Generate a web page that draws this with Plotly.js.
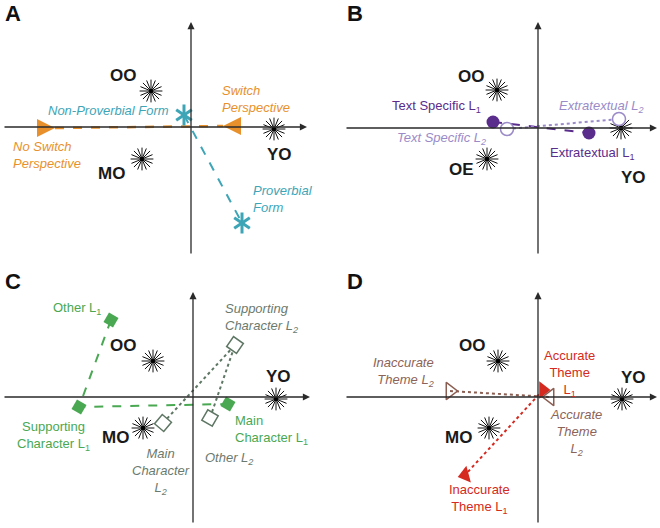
<!DOCTYPE html>
<html><head><meta charset="utf-8">
<script src="https://cdn.plot.ly/plotly-3.0.1.min.js"></script>
<style>html,body{margin:0;padding:0;background:#fff}</style>
</head><body><div id="chart" style="width:660px;height:528px"></div>
<script>
// ---------- Panel A ----------
const groupsA = ['OO', 'MO', 'YO'];
const groupsA_x = [-0.40, -0.49, 0.83];
const groupsA_y = [0.36, -0.32, -0.02];
const formA = ['Non-Proverbial Form', 'Proverbial Form'];
const formA_x = [-0.07, 0.51];
const formA_y = [0.12, -0.96];
const perspA = ['No Switch Perspective', 'Switch Perspective'];
const perspA_x = [-1.36, 0.32];
const perspA_y = [-0.01, 0.01];

// ---------- Panel B ----------
const groupsB = ['OO', 'OE', 'YO'];
const groupsB_x = [-0.41, -0.51, 0.83];
const groupsB_y = [0.38, -0.31, 0.00];
const infoB_L1 = ['Text Specific L1', 'Extratextual L1'];
const infoB_L1_x = [-0.45, 0.51];
const infoB_L1_y = [0.06, -0.05];
const infoB_L2 = ['Text Specific L2', 'Extratextual L2'];
const infoB_L2_x = [-0.31, 0.81];
const infoB_L2_y = [-0.01, 0.09];

// ---------- Panel C ----------
const groupsC = ['OO', 'MO', 'YO'];
const groupsC_x = [-0.40, -0.50, 0.83];
const groupsC_y = [0.36, -0.31, -0.02];
const charC_L1 = ['Other L1', 'Supporting Character L1', 'Main Character L1'];
const charC_L1_x = [-0.82, -1.14, 0.35];
const charC_L1_y = [0.77, -0.10, -0.07];
const charC_L2 = ['Main Character L2', 'Supporting Character L2', 'Other L2'];
const charC_L2_x = [-0.30, 0.42, 0.17];
const charC_L2_y = [-0.26, 0.52, -0.21];

// ---------- Panel D ----------
const groupsD = ['OO', 'MO', 'YO'];
const groupsD_x = [-0.40, -0.49, 0.84];
const groupsD_y = [0.36, -0.31, -0.02];
const themeD_L1 = ['Accurate Theme L1', 'Inaccurate Theme L1'];
const themeD_L1_x = [0.05, -0.73];
const themeD_L1_y = [0.07, -0.78];
const themeD_L2 = ['Inaccurate Theme L2', 'Accurate Theme L2'];
const themeD_L2_x = [-0.88, 0.12];
const themeD_L2_y = [0.06, 0.00];

const FONT = 'Arial, "Liberation Sans", Helvetica, sans-serif';
const traces = [];
const ax = s => ({xaxis: 'x' + s, yaxis: 'y' + s});

function stars(xs, ys, s) {
  [0, 22.5].forEach(a => traces.push(Object.assign({
    type: 'scatter', mode: 'markers', x: xs, y: ys, hoverinfo: 'skip',
    marker: {symbol: 'asterisk-open', size: 19, angle: a, color: '#111', line: {color: '#111', width: 1}}
  }, ax(s))));
  traces.push(Object.assign({
    type: 'scatter', mode: 'markers', x: xs, y: ys, hoverinfo: 'skip',
    marker: {symbol: 'circle', size: 4, color: '#000'}
  }, ax(s)));
}
function line(xs, ys, s, color, dash, width) {
  traces.push(Object.assign({
    type: 'scatter', mode: 'lines', x: xs, y: ys, hoverinfo: 'skip',
    line: {color: color, dash: dash, width: width}
  }, ax(s)));
}
function marks(xs, ys, s, marker) {
  traces.push(Object.assign({
    type: 'scatter', mode: 'markers', x: xs, y: ys, hoverinfo: 'skip', marker: marker
  }, ax(s)));
}

const ORANGE = '#e8912c', CYAN = '#3ea5b7';
// Panel A
stars(groupsA_x, groupsA_y, '');
line(perspA_x, perspA_y, '', ORANGE, 'dash', 2.5);
line(formA_x, formA_y, '', CYAN, 'dash', 2);
marks(perspA_x, perspA_y, '', {symbol: 'arrow-up', size: 18, angle: [90, -90], color: ORANGE, line: {width: 0, color: ORANGE}});
marks(formA_x, formA_y, '', {symbol: 'y-up-open', size: 13, color: CYAN, line: {color: CYAN, width: 3}});
marks(formA_x, formA_y, '', {symbol: 'y-down-open', size: 13, color: CYAN, line: {color: CYAN, width: 3}});

// Panel B
const PD = '#5a2d8c', PL = '#9a8bc8';
stars(groupsB_x, groupsB_y, '2');
line(infoB_L1_x, infoB_L1_y, '2', PD, 'dash', 2);
line(infoB_L2_x, infoB_L2_y, '2', PL, 'dot', 2);
marks(infoB_L1_x, infoB_L1_y, '2', {symbol: 'circle', size: 13, color: PD, line: {width: 0, color: PD}});
marks(infoB_L2_x, infoB_L2_y, '2', {symbol: 'circle', size: 13, color: '#fff', line: {color: PL, width: 1.5}});

// Panel C
const GR = '#4aa853', GG = '#5e7664';
stars(groupsC_x, groupsC_y, '3');
line(charC_L1_x, charC_L1_y, '3', GR, 'dash', 2);
line(charC_L2_x, charC_L2_y, '3', GG, 'dot', 2);
marks(charC_L1_x, charC_L1_y, '3', {symbol: 'square', size: 11, angle: 30, color: GR, line: {width: 0, color: GR}});
marks(charC_L2_x, charC_L2_y, '3', {symbol: 'square', size: 12, angle: [40, 35, 30], color: '#fff', line: {width: 1.5, color: GG}});

// Panel D
const RED = '#d42a20', BR = '#8b5e52';
stars(groupsD_x, groupsD_y, '4');
line(themeD_L1_x, themeD_L1_y, '4', RED, 'dot', 2);
line(themeD_L2_x, themeD_L2_y, '4', BR, 'dot', 2);
marks(themeD_L1_x, themeD_L1_y, '4', {symbol: ['triangle-right', 'triangle-left'], size: 15, angle: [0, -15], color: RED, line: {width: 0, color: RED}});
marks(themeD_L2_x, themeD_L2_y, '4', {symbol: ['triangle-right', 'triangle-left'], size: 15, color: 'rgba(255,255,255,0)', line: {width: 1.5, color: BR}});

// ---------- layout ----------
const panels = [
  {s: '', xd: [0, 0.5], yd: [0.5, 1], xr: [-1.91, 1.39], yr: [-1.37, 1.27], h: [-1.88, 1.16], v: [-1.28, 1.05]},
  {s: '2', xd: [0.5, 1], yd: [0.5, 1], xr: [-2.08, 1.22], yr: [-1.36, 1.28], h: [-1.93, 1.19], v: [-1.27, 1.06]},
  {s: '3', xd: [0, 0.5], yd: [0, 0.5], xr: [-1.93, 1.37], yr: [-1.31, 1.33], h: [-1.90, 1.17], v: [-1.27, 1.05]},
  {s: '4', xd: [0.5, 1], yd: [0, 0.5], xr: [-2.08, 1.22], yr: [-1.31, 1.33], h: [-1.93, 1.19], v: [-1.27, 1.05]}
];
const layout = {
  width: 660, height: 528, margin: {l: 0, r: 0, t: 0, b: 0},
  paper_bgcolor: '#fff', plot_bgcolor: 'rgba(0,0,0,0)', showlegend: false, hovermode: false,
  font: {family: FONT}, annotations: []
};
const axStyle = {showgrid: false, zeroline: false, showticklabels: false, showline: false, ticks: '', fixedrange: true};
panels.forEach(p => {
  layout['xaxis' + p.s] = Object.assign({domain: p.xd, range: p.xr, anchor: 'y' + p.s}, axStyle);
  layout['yaxis' + p.s] = Object.assign({domain: p.yd, range: p.yr, anchor: 'x' + p.s}, axStyle);
  const ref = {xref: 'x' + p.s, yref: 'y' + p.s, axref: 'x' + p.s, ayref: 'y' + p.s};
  layout.annotations.push(Object.assign({x: p.h[1], y: 0, ax: p.h[0], ay: 0, showarrow: true, arrowhead: 2, arrowsize: 1.1, arrowwidth: 1.3, arrowcolor: '#2a2a2a', text: ''}, ref));
  layout.annotations.push(Object.assign({x: 0, y: p.v[1], ax: 0, ay: p.v[0], showarrow: true, arrowhead: 2, arrowsize: 1.1, arrowwidth: 1.3, arrowcolor: '#2a2a2a', text: ''}, ref));
});

function lab(text, x, y, s, color, size, extra) {
  layout.annotations.push(Object.assign({
    text: text, x: x, y: y, xref: 'x' + s, yref: 'y' + s, showarrow: false,
    font: {family: FONT, color: color, size: size}, xanchor: 'center', yanchor: 'middle', align: 'center'
  }, extra || {}));
}
const sub = t => t.replace(/L(\d)$/, 'L<sub>$1</sub>');
const it = t => '<i>' + t + '</i>';

// panel letters
[['A', 13, 13], ['B', 355, 13], ['C', 13, 281], ['D', 355, 281]].forEach(d => {
  layout.annotations.push({text: '<b>' + d[0] + '</b>', x: d[1] / 660, y: 1 - d[2] / 528, xref: 'paper', yref: 'paper',
    showarrow: false, xanchor: 'center', yanchor: 'middle', font: {family: FONT, size: 22, color: '#111'}});
});

const G = 17, K = '#1a1a1a';
// Panel A labels
lab('<b>' + groupsA[0] + '</b>', -0.68, 0.52, '', K, G);
lab('<b>' + groupsA[1] + '</b>', -0.80, -0.46, '', K, G);
lab('<b>' + groupsA[2] + '</b>', 0.88, -0.27, '', K, G);
lab(it(formA[0]), -0.20, 0.17, '', CYAN, 13, {xanchor: 'right'});
lab(it('Proverbial<br>Form'), 0.60, -0.72, '', CYAN, 13, {xanchor: 'left', align: 'left'});
lab(it('Switch<br>Perspective'), 0.29, 0.28, '', ORANGE, 13, {xanchor: 'left', align: 'left'});
lab(it('No Switch<br>Perspective'), -1.80, -0.28, '', ORANGE, 13, {xanchor: 'left', align: 'left'});

// Panel B labels
lab('<b>' + groupsB[0] + '</b>', -0.67, 0.52, '2', K, G);
lab('<b>' + groupsB[1] + '</b>', -0.77, -0.41, '2', K, G);
lab('<b>' + groupsB[2] + '</b>', 0.95, -0.49, '2', K, G);
lab(sub(infoB_L1[0]), -0.55, 0.22, '2', PD, 13, {xanchor: 'right'});
lab(sub(infoB_L1[1]), 0.54, -0.25, '2', PD, 13);
lab(it(sub(infoB_L2[0])), -0.97, -0.10, '2', PL, 13);
lab(it(sub(infoB_L2[1])), 0.63, 0.22, '2', PL, 13);

// Panel C labels
lab('<b>' + groupsC[0] + '</b>', -0.70, 0.52, '3', K, G);
lab('<b>' + groupsC[1] + '</b>', -0.78, -0.40, '3', K, G);
lab('<b>' + groupsC[2] + '</b>', 0.85, 0.21, '3', K, G);
lab(sub(charC_L1[0]), -1.16, 0.89, '3', GR, 13);
lab('Supporting<br>Character L<sub>1</sub>', -1.40, -0.39, '3', GR, 13);
lab('Main<br>Character L<sub>1</sub>', 0.40, -0.33, '3', GR, 13, {xanchor: 'left', align: 'left'});
lab(it('Supporting<br>Character L<sub>2</sub>'), 0.30, 0.79, '3', '#6b7a6e', 13, {xanchor: 'left', align: 'left'});
lab(it('Main<br>Character<br>L<sub>2</sub>'), -0.32, -0.74, '3', '#6b7a6e', 13);
lab(it(sub(charC_L2[2])), 0.36, -0.61, '3', '#6b7a6e', 13);

// Panel D labels
lab('<b>' + groupsD[0] + '</b>', -0.66, 0.52, '4', K, G);
lab('<b>' + groupsD[1] + '</b>', -0.80, -0.40, '4', K, G);
lab('<b>' + groupsD[2] + '</b>', 0.95, 0.20, '4', K, G);
lab(it('Inaccurate<br>Theme L<sub>2</sub>'), -1.02, 0.25, '4', '#8b6358', 13, {xanchor: 'right', align: 'right'});
lab('Accurate<br>Theme<br>L<sub>1</sub>', 0.31, 0.24, '4', RED, 13);
lab(it('Accurate<br>Theme<br>L<sub>2</sub>'), 0.38, -0.35, '4', '#8b6358', 13);
lab('Inaccurate<br>Theme L<sub>1</sub>', -0.59, -1.02, '4', RED, 13);

Plotly.newPlot('chart', traces, layout, {staticPlot: true, displayModeBar: false});
</script></body></html>
